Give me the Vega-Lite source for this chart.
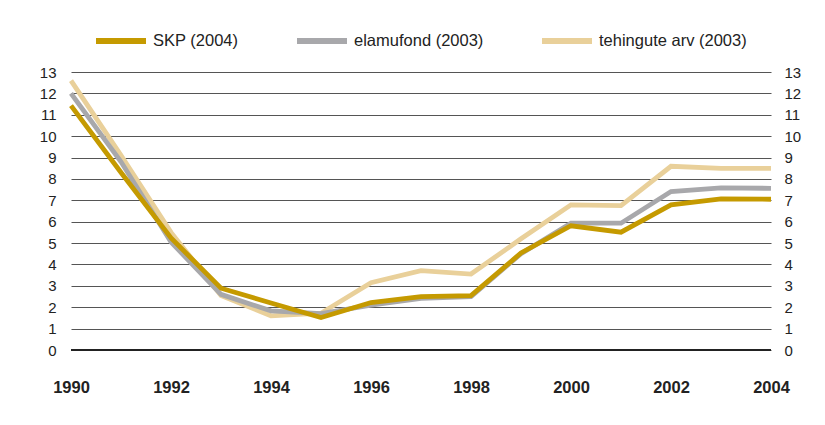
{
  "$schema": "https://vega.github.io/schema/vega-lite/v6.json",
  "width": 700,
  "height": 278,
  "autosize": {"type": "none"},
  "padding": {"left": 71, "top": 72, "right": 54, "bottom": 75},
  "background": "white",
  "config": {
    "view": {"stroke": null},
    "font": "Liberation Sans"
  },
  "datasets": {
    "series": [
      {"year": 1990, "s": "tehingute arv (2003)", "v": 12.6},
      {"year": 1991, "s": "tehingute arv (2003)", "v": 9.1},
      {"year": 1992, "s": "tehingute arv (2003)", "v": 5.5},
      {"year": 1993, "s": "tehingute arv (2003)", "v": 2.55},
      {"year": 1994, "s": "tehingute arv (2003)", "v": 1.6},
      {"year": 1995, "s": "tehingute arv (2003)", "v": 1.72},
      {"year": 1996, "s": "tehingute arv (2003)", "v": 3.15},
      {"year": 1997, "s": "tehingute arv (2003)", "v": 3.71},
      {"year": 1998, "s": "tehingute arv (2003)", "v": 3.55},
      {"year": 1999, "s": "tehingute arv (2003)", "v": 5.2},
      {"year": 2000, "s": "tehingute arv (2003)", "v": 6.79},
      {"year": 2001, "s": "tehingute arv (2003)", "v": 6.75},
      {"year": 2002, "s": "tehingute arv (2003)", "v": 8.59},
      {"year": 2003, "s": "tehingute arv (2003)", "v": 8.49},
      {"year": 2004, "s": "tehingute arv (2003)", "v": 8.49},
      {"year": 1990, "s": "elamufond (2003)", "v": 12.0},
      {"year": 1991, "s": "elamufond (2003)", "v": 8.8},
      {"year": 1992, "s": "elamufond (2003)", "v": 5.05},
      {"year": 1993, "s": "elamufond (2003)", "v": 2.6},
      {"year": 1994, "s": "elamufond (2003)", "v": 1.83},
      {"year": 1995, "s": "elamufond (2003)", "v": 1.7},
      {"year": 1996, "s": "elamufond (2003)", "v": 2.1},
      {"year": 1997, "s": "elamufond (2003)", "v": 2.42},
      {"year": 1998, "s": "elamufond (2003)", "v": 2.5},
      {"year": 1999, "s": "elamufond (2003)", "v": 4.5},
      {"year": 2000, "s": "elamufond (2003)", "v": 5.93},
      {"year": 2001, "s": "elamufond (2003)", "v": 5.93},
      {"year": 2002, "s": "elamufond (2003)", "v": 7.41},
      {"year": 2003, "s": "elamufond (2003)", "v": 7.58},
      {"year": 2004, "s": "elamufond (2003)", "v": 7.56},
      {"year": 1990, "s": "SKP (2004)", "v": 11.43},
      {"year": 1991, "s": "SKP (2004)", "v": 8.3},
      {"year": 1992, "s": "SKP (2004)", "v": 5.24},
      {"year": 1993, "s": "SKP (2004)", "v": 2.89},
      {"year": 1994, "s": "SKP (2004)", "v": 2.2},
      {"year": 1995, "s": "SKP (2004)", "v": 1.52},
      {"year": 1996, "s": "SKP (2004)", "v": 2.22},
      {"year": 1997, "s": "SKP (2004)", "v": 2.5},
      {"year": 1998, "s": "SKP (2004)", "v": 2.54},
      {"year": 1999, "s": "SKP (2004)", "v": 4.54},
      {"year": 2000, "s": "SKP (2004)", "v": 5.81},
      {"year": 2001, "s": "SKP (2004)", "v": 5.51},
      {"year": 2002, "s": "SKP (2004)", "v": 6.79},
      {"year": 2003, "s": "SKP (2004)", "v": 7.07},
      {"year": 2004, "s": "SKP (2004)", "v": 7.05}
    ],
    "zero": [{"v": 0}]
  },
  "layer": [
    {
      "data": {"name": "series"},
      "mark": {"type": "line", "strokeWidth": 4.8, "strokeJoin": "miter", "strokeCap": "butt"},
      "encoding": {
        "x": {
          "field": "year", "type": "quantitative",
          "scale": {"domain": [1990, 2004], "nice": false, "zero": false},
          "axis": {
            "title": null, "values": [1990, 1992, 1994, 1996, 1998, 2000, 2002, 2004],
            "format": "d", "grid": false, "domain": false, "ticks": false,
            "labelPadding": 29, "labelFontSize": 16.5, "labelFontWeight": "bold",
            "labelColor": "#222", "labelFont": "Liberation Sans", "labelFlush": false
          }
        },
        "y": {
          "field": "v", "type": "quantitative",
          "scale": {"domain": [0, 13], "nice": false},
          "axis": {
            "title": null, "values": [0,1,2,3,4,5,6,7,8,9,10,11,12,13],
            "grid": true, "gridColor": "#555", "gridWidth": 1, "gridOpacity": 1,
            "domain": false, "ticks": false, "labelPadding": 15,
            "labelFontSize": 15, "labelColor": "#222", "labelFont": "Liberation Sans"
          }
        },
        "color": {
          "field": "s", "type": "nominal",
          "scale": {
            "domain": ["SKP (2004)", "elamufond (2003)", "tehingute arv (2003)"],
            "range": ["#C59A00", "#A8A8AB", "#E9D09A"]
          },
          "legend": {
            "title": null, "orient": "none", "direction": "horizontal",
            "legendX": 22, "legendY": -59,
            "symbolType": "stroke", "symbolSize": 2500, "symbolStrokeWidth": 6,
            "labelFontSize": 16.5, "labelColor": "#222", "labelFont": "Liberation Sans",
            "labelOffset": 4, "columnPadding": 46, "labelLimit": 0
          }
        }
      }
    },
    {
      "data": {"name": "zero"},
      "mark": {"type": "rule", "color": "#222", "strokeWidth": 2},
      "encoding": {"y": {"field": "v", "type": "quantitative", "axis": null}}
    },
    {
      "data": {"name": "series"},
      "mark": {"type": "text", "opacity": 0},
      "encoding": {
        "y": {
          "field": "v", "type": "quantitative",
          "axis": {
            "orient": "right", "title": null, "values": [0,1,2,3,4,5,6,7,8,9,10,11,12,13],
            "grid": false, "domain": false, "ticks": false, "labelPadding": 13,
            "labelFontSize": 15, "labelColor": "#222", "labelFont": "Liberation Sans"
          }
        }
      }
    }
  ],
  "resolve": {"axis": {"y": "independent"}}
}
